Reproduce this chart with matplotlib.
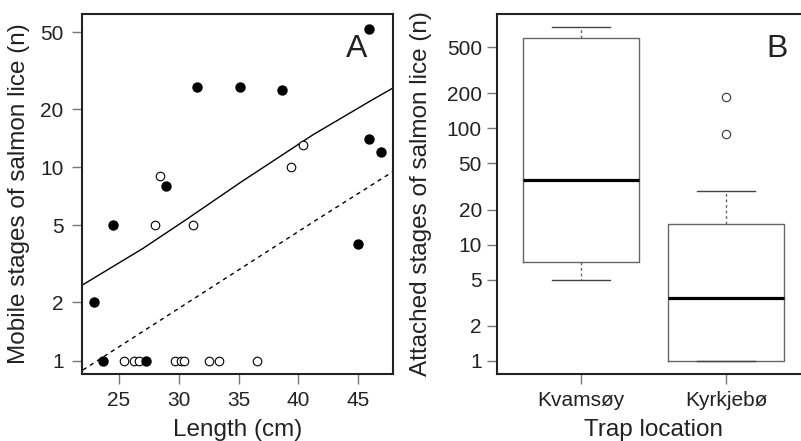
import numpy as np
import matplotlib
matplotlib.use("Agg")
from matplotlib import pyplot as plt
from matplotlib.ticker import FixedLocator, NullLocator, FixedFormatter

plt.rcParams['font.family'] = ['Liberation Sans', 'DejaVu Sans']

# panel A: fish length vs mobile lice
filled_len = [22.9, 23.7, 24.5, 27.3, 28.9, 31.5, 35.1, 38.6, 45.0, 45.9, 45.9, 46.9]
filled_n = [2, 1, 5, 1, 8, 26, 26, 25, 4, 52, 14, 12]
open_len = [25.4, 26.3, 26.7, 28.0, 28.4, 29.7, 30.2, 30.4, 31.2, 32.5, 33.4, 36.5, 39.4, 40.4]
open_n = [1, 1, 1, 5, 9, 1, 1, 1, 5, 1, 1, 1, 10, 13]

fit_len = [21.9, 27.0, 30.6, 35.1, 41.2, 46.0, 47.9]
fit_solid = [2.45, 3.8, 5.35, 8.3, 14.7, 22, 25.7]
dash_len = [22.0, 41.5, 47.9]
fit_dash = [0.895, 5.34, 9.5]

yticks_a = [1, 2, 5, 10, 20, 50]
xticks_a = [25, 30, 35, 40, 45]

# panel B: attached lice by trap location
locations = ['Kvamsøy', 'Kyrkjebø']
q1 = [7.05, 1]
med = [35.7, 3.5]
q3 = [604, 15.1]
whislo = [5, 1]
whishi = [751, 29.2]
fliers = [[], [89, 187]]
yticks_b = [1, 2, 5, 10, 20, 50, 100, 200, 500]

txt = '#222222'
tickc = '#777777'

fig = plt.figure(figsize=(8.01, 4.41), dpi=100)
W, H = 801, 441

axA = fig.add_axes([82 / W, 1 - 374 / H, (393 - 82) / W, (374 - 14) / H])
axA.plot(fit_len, fit_solid, color='black', lw=1.0)
axA.plot(dash_len, fit_dash, color='black', lw=1.0, ls=(0, (3, 3)))
axA.scatter(open_len, open_n, s=38, facecolor='white', edgecolor='black', lw=0.8, zorder=3)
axA.scatter(filled_len, filled_n, s=42, color='black', zorder=4)
axA.set_yscale('log')
axA.set_xlim(21.92, 47.9)
axA.set_ylim(0.853, 62)
axA.yaxis.set_major_locator(FixedLocator(yticks_a))
axA.yaxis.set_major_formatter(FixedFormatter([str(v) for v in yticks_a]))
axA.yaxis.set_minor_locator(NullLocator())
axA.set_xticks(xticks_a)
axA.tick_params(axis='y', length=7.5, width=1, color=tickc, labelsize=15, labelcolor=txt, pad=5.8)
axA.tick_params(axis='x', length=7, width=1, color=tickc, labelsize=15, labelcolor=txt, pad=5)
axA.set_xlabel('Length (cm)', fontsize=17.5, color=txt)
axA.set_ylabel('Mobile stages of salmon lice (n)', fontsize=17.5, color=txt)
axA.xaxis.set_label_coords(0.5, -0.125)
axA.yaxis.set_label_coords(-0.166, 0.5)
for s in axA.spines.values():
    s.set_linewidth(1.5)
    s.set_color('#222222')
fig.text(357 / W, 1 - 57 / H, 'A', fontsize=23, color=txt, ha='center', va='baseline')

axB = fig.add_axes([496.7 / W, 1 - 374 / H, (810 - 496.7) / W, (374 - 14) / H])
stats = []
for i in range(2):
    stats.append(dict(med=med[i], q1=q1[i], q3=q3[i], whislo=whislo[i],
                      whishi=whishi[i], fliers=fliers[i]))
axB.bxp(stats, positions=[1, 2], widths=0.8,
        boxprops=dict(color='#666666', lw=1.0),
        medianprops=dict(color='black', lw=2.3),
        whiskerprops=dict(color='#666666', lw=1.0, ls=(0, (2, 2))),
        capprops=dict(color='#444444', lw=1.0),
        flierprops=dict(marker='o', markerfacecolor='white', markeredgecolor='#333333',
                        markersize=6, markeredgewidth=0.8))
axB.set_yscale('log')
axB.set_xlim(0.418, 2.58)
axB.set_ylim(0.77, 966)
axB.yaxis.set_major_locator(FixedLocator(yticks_b))
axB.yaxis.set_major_formatter(FixedFormatter([str(v) for v in yticks_b]))
axB.yaxis.set_minor_locator(NullLocator())
axB.set_xticks([1, 2])
axB.set_xticklabels(locations)
axB.tick_params(axis='y', length=7.5, width=1, color=tickc, labelsize=15, labelcolor=txt, pad=3.2)
axB.tick_params(axis='x', length=7, width=1, color=tickc, labelsize=15, labelcolor=txt, pad=5)
axB.set_xlabel('Trap location', fontsize=17.5, color=txt)
axB.set_ylabel('Attached stages of salmon lice (n)', fontsize=17.5, color=txt)
axB.xaxis.set_label_coords(0.5, -0.125)
axB.yaxis.set_label_coords(-0.2065, 0.5)
for s in axB.spines.values():
    s.set_linewidth(1.5)
    s.set_color('#222222')
fig.text(777 / W, 1 - 57 / H, 'B', fontsize=23, color=txt, ha='center', va='baseline')

fig.savefig('out.png', dpi=100)
